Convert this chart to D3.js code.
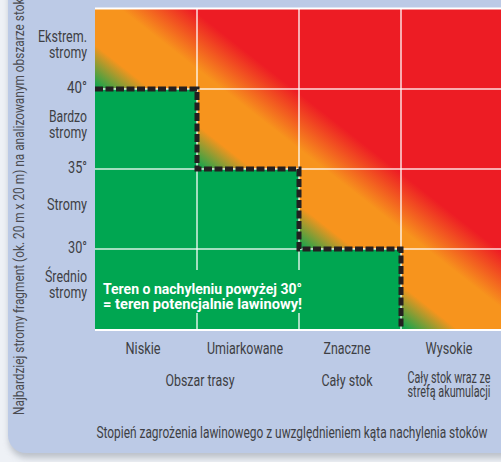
<!DOCTYPE html>
<html><head><meta charset="utf-8">
<script src="https://cdn.jsdelivr.net/npm/d3@7"></script>
<style>
html,body{margin:0;padding:0;background:#eef1f6;overflow:hidden;}
svg{display:block;}
text{font-family:"Roboto","DejaVu Sans",sans-serif;}
</style></head><body>
<svg id="chart" width="501" height="462"></svg>
<script>
// ---- data ----
const categories = ["Niskie", "Umiarkowane", "Znaczne", "Wysokie"];
const areaLabels = [["Obszar trasy"], ["Cały stok"], ["Cały stok wraz ze", "strefą akumulacji"]];
const areaSpans = [[0, 1], [2, 2], [3, 3]];
const slopeBands = [["Średnio", "stromy"], ["Stromy"], ["Bardzo", "stromy"], ["Ekstrem.", "stromy"]];
const bandEdges = [25, 30, 35, 40, 45];
const tickValues = [30, 35, 40];
const tickLabels = ["30°", "35°", "40°"];
const dangerLimits = [40, 35, 30, 25];
const yTitle = "Najbardziej stromy fragment (ok. 20 m x 20 m) na analizowanym obszarze stoku";
const xTitle = "Stopień zagrożenia lawinowego z uwzględnieniem kąta nachylenia stoków";
const noteLines = ["Teren o nachyleniu powyżej 30°", "= teren potencjalnie lawinowy!"];

// ---- layout ----
const svg = d3.select("#chart");
const x = d3.scaleBand().domain(categories).range([95, 503]).paddingInner(0).paddingOuter(0);
const y = d3.scaleLinear().domain([bandEdges[0], bandEdges[bandEdges.length - 1]]).range([329, 9]);
const bw = x.bandwidth();
const rh = y(bandEdges[0]) - y(bandEdges[1]);
const x0 = x.range()[0], x1 = x.range()[1];
const yb = y.range()[0], yt = y.range()[1];
const textCol = "#3e3f44";
const FS = 16;

// condensed look: squeeze glyphs to the widths seen in the reference
const textWidths = {
  "Ekstrem.": 49, "stromy": 38, "Bardzo": 38, "Stromy": 40, "Średnio": 42,
  "40°": 20, "35°": 19, "30°": 19,
  "Niskie": 35, "Umiarkowane": 76, "Znaczne": 47, "Wysokie": 47,
  "Obszar trasy": 69, "Cały stok": 51, "Cały stok wraz ze": 83, "strefą akumulacji": 83
};
function fit(sel, w) {
  sel.each(function (d) {
    const t = d3.select(this).text();
    const target = w != null ? w : (textWidths[t] || this.getComputedTextLength() * 0.75);
    d3.select(this).attr("textLength", target).attr("lengthAdjust", "spacingAndGlyphs");
  });
  return sel;
}

const defs = svg.append("defs");
const f = defs.append("filter").attr("id", "sh").attr("x", "-10%").attr("y", "-10%").attr("width", "130%").attr("height", "130%");
f.append("feGaussianBlur").attr("stdDeviation", 3);

// panel shadow + panel
svg.append("rect").attr("x", 9).attr("y", -30).attr("width", 540).attr("height", 30 + 458)
  .attr("rx", 18).attr("fill", "#9aa0ab").attr("opacity", 0.6).attr("filter", "url(#sh)");
svg.append("rect").attr("x", 8).attr("y", -30).attr("width", 540).attr("height", 30 + 453)
  .attr("rx", 18).attr("fill", "#bccae6");

// gradient along s = col + (angle-25)/5
const gx = 1 / bw, gy = -1 / rh, n2 = gx * gx + gy * gy;
const P = s => [x0 + s * gx / n2, yb + s * gy / n2];
const sA = 3, sB = 6;
const grad = defs.append("linearGradient").attr("id", "risk").attr("gradientUnits", "userSpaceOnUse")
  .attr("x1", P(sA)[0]).attr("y1", P(sA)[1]).attr("x2", P(sB)[0]).attr("y2", P(sB)[1]);
[[3.0, "#00a651"], [3.55, "#f7941d"], [4.25, "#f7941d"], [4.95, "#ed1c24"], [6, "#ed1c24"]]
  .forEach(([s, c]) => grad.append("stop").attr("offset", (s - sA) / (sB - sA)).attr("stop-color", c));

svg.append("rect").attr("x", x0).attr("y", yt).attr("width", x1 - x0).attr("height", yb - yt).attr("fill", "url(#risk)");

// safe (green) area below staircase
const stairPts = [];
categories.forEach((c, i) => {
  stairPts.push([x(c), y(dangerLimits[i])]);
  stairPts.push([x(c) + bw, y(dangerLimits[i])]);
});
const polyPts = [[x0, yb], ...stairPts, [x1, yb]];
svg.append("path").attr("d", d3.line()(polyPts) + "Z").attr("fill", "#00a651");

// grid
const grid = svg.append("g").attr("stroke", "#ffffff").attr("stroke-opacity", 0.85).attr("stroke-width", 1.5);
categories.slice(1).forEach(c => grid.append("line").attr("x1", x(c)).attr("x2", x(c)).attr("y1", yt).attr("y2", yb));
tickValues.forEach(v => grid.append("line").attr("x1", x0).attr("x2", x1).attr("y1", y(v)).attr("y2", y(v)));
svg.append("line").attr("x1", x0).attr("x2", x1).attr("y1", yt - 0.5).attr("y2", yt - 0.5).attr("stroke", "#fff").attr("stroke-width", 2);
svg.append("line").attr("x1", x0).attr("x2", x1).attr("y1", yb + 1).attr("y2", yb + 1).attr("stroke", "#fff").attr("stroke-width", 2);

// note box
svg.append("rect").attr("x", x0).attr("y", 270).attr("width", 212).attr("height", 43).attr("fill", "#00a651");
fit(svg.append("g").selectAll("text").data(noteLines).join("text")
  .attr("x", 103).attr("y", (d, i) => 294 + i * 15)
  .attr("fill", "#fff").attr("font-weight", "bold").attr("font-size", 15).text(d => d), 199);

// staircase dashed line
const linePts = stairPts.slice(0, stairPts.length - 1);
svg.append("path").attr("d", d3.line()(linePts)).attr("fill", "none")
  .attr("stroke", "#231f20").attr("stroke-width", 5).attr("stroke-dasharray", "8,2.5");

// y tick labels
fit(svg.append("g").selectAll("text").data(tickValues).join("text")
  .attr("x", 87).attr("y", v => y(v) + 4).attr("text-anchor", "end")
  .attr("font-size", FS).attr("fill", textCol).text((v, i) => tickLabels[i]));

// y band labels
slopeBands.forEach((lines, i) => {
  const cy = (y(bandEdges[i]) + y(bandEdges[i + 1])) / 2;
  const off = (lines.length - 1) * 8;
  lines.forEach((t, j) => fit(svg.append("text").attr("x", 87).attr("y", cy - off + j * 16 + 1)
    .attr("text-anchor", "end").attr("font-size", FS).attr("fill", textCol).text(t)));
});

// x category labels
fit(svg.append("g").selectAll("text").data(categories).join("text")
  .attr("x", c => x(c) + bw / 2 - 3).attr("y", 354).attr("text-anchor", "middle")
  .attr("font-size", FS).attr("fill", textCol).text(c => c));

// area labels
areaLabels.forEach((lines, i) => {
  const a = categories[areaSpans[i][0]], b = categories[areaSpans[i][1]];
  const cx = (x(a) + x(b) + bw) / 2 - 3 + (i === 0 ? 6 : 0);
  const by = lines.length > 1 ? 383 : 386;
  lines.forEach((t, j) => fit(svg.append("text").attr("x", cx).attr("y", by + j * 14)
    .attr("text-anchor", "middle").attr("font-size", FS).attr("fill", textCol).text(t)));
});

// titles
fit(svg.append("text").attr("x", 292).attr("y", 438).attr("text-anchor", "middle")
  .attr("font-size", FS).attr("fill", textCol).text(xTitle), 391);
fit(svg.append("text").attr("transform", "translate(24,415) rotate(-90)")
  .attr("font-size", 14).attr("fill", "#4a4b50").text(yTitle), 423);
</script>
</body></html>
